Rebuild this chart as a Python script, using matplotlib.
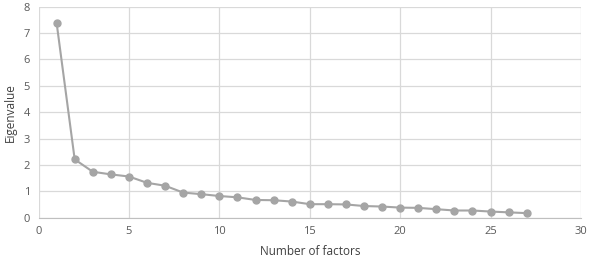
import numpy as np
import matplotlib.pyplot as plt

factors = list(range(1, 28))
eigenvalues = [7.39, 2.21, 1.74, 1.64, 1.56, 1.32, 1.21, 0.95, 0.89, 0.82,
               0.77, 0.67, 0.66, 0.61, 0.51, 0.51, 0.50, 0.44, 0.42, 0.38,
               0.37, 0.32, 0.27, 0.27, 0.23, 0.20, 0.17]

plt.rcParams['font.family'] = ['Open Sans', 'DejaVu Sans']

fig = plt.figure(figsize=(5.89, 2.6), dpi=100)
ax = fig.add_axes([0.0654, 0.163, 0.921, 0.811])

ax.plot(factors, eigenvalues, color='#A5A5A5', linewidth=1.5,
        marker='o', markersize=5, zorder=3)

ax.set_xlim(0, 30)
ax.set_ylim(0, 8)
ax.set_xticks(range(0, 31, 5))
ax.set_yticks(range(0, 9))
ax.grid(True, color='#D9D9D9', linewidth=0.9)
ax.set_axisbelow(True)
for side in ['top', 'right', 'left']:
    ax.spines[side].set_visible(False)
ax.spines['bottom'].set_color('#BFBFBF')
ax.tick_params(length=0, labelsize=8, colors='#595959', pad=6)

ax.set_xlabel('Number of factors', fontsize=8.5, color='#404040', labelpad=6)
ax.set_ylabel('Eigenvalue', fontsize=8.5, color='#404040', labelpad=5)

fig.savefig('out.png', dpi=100)
